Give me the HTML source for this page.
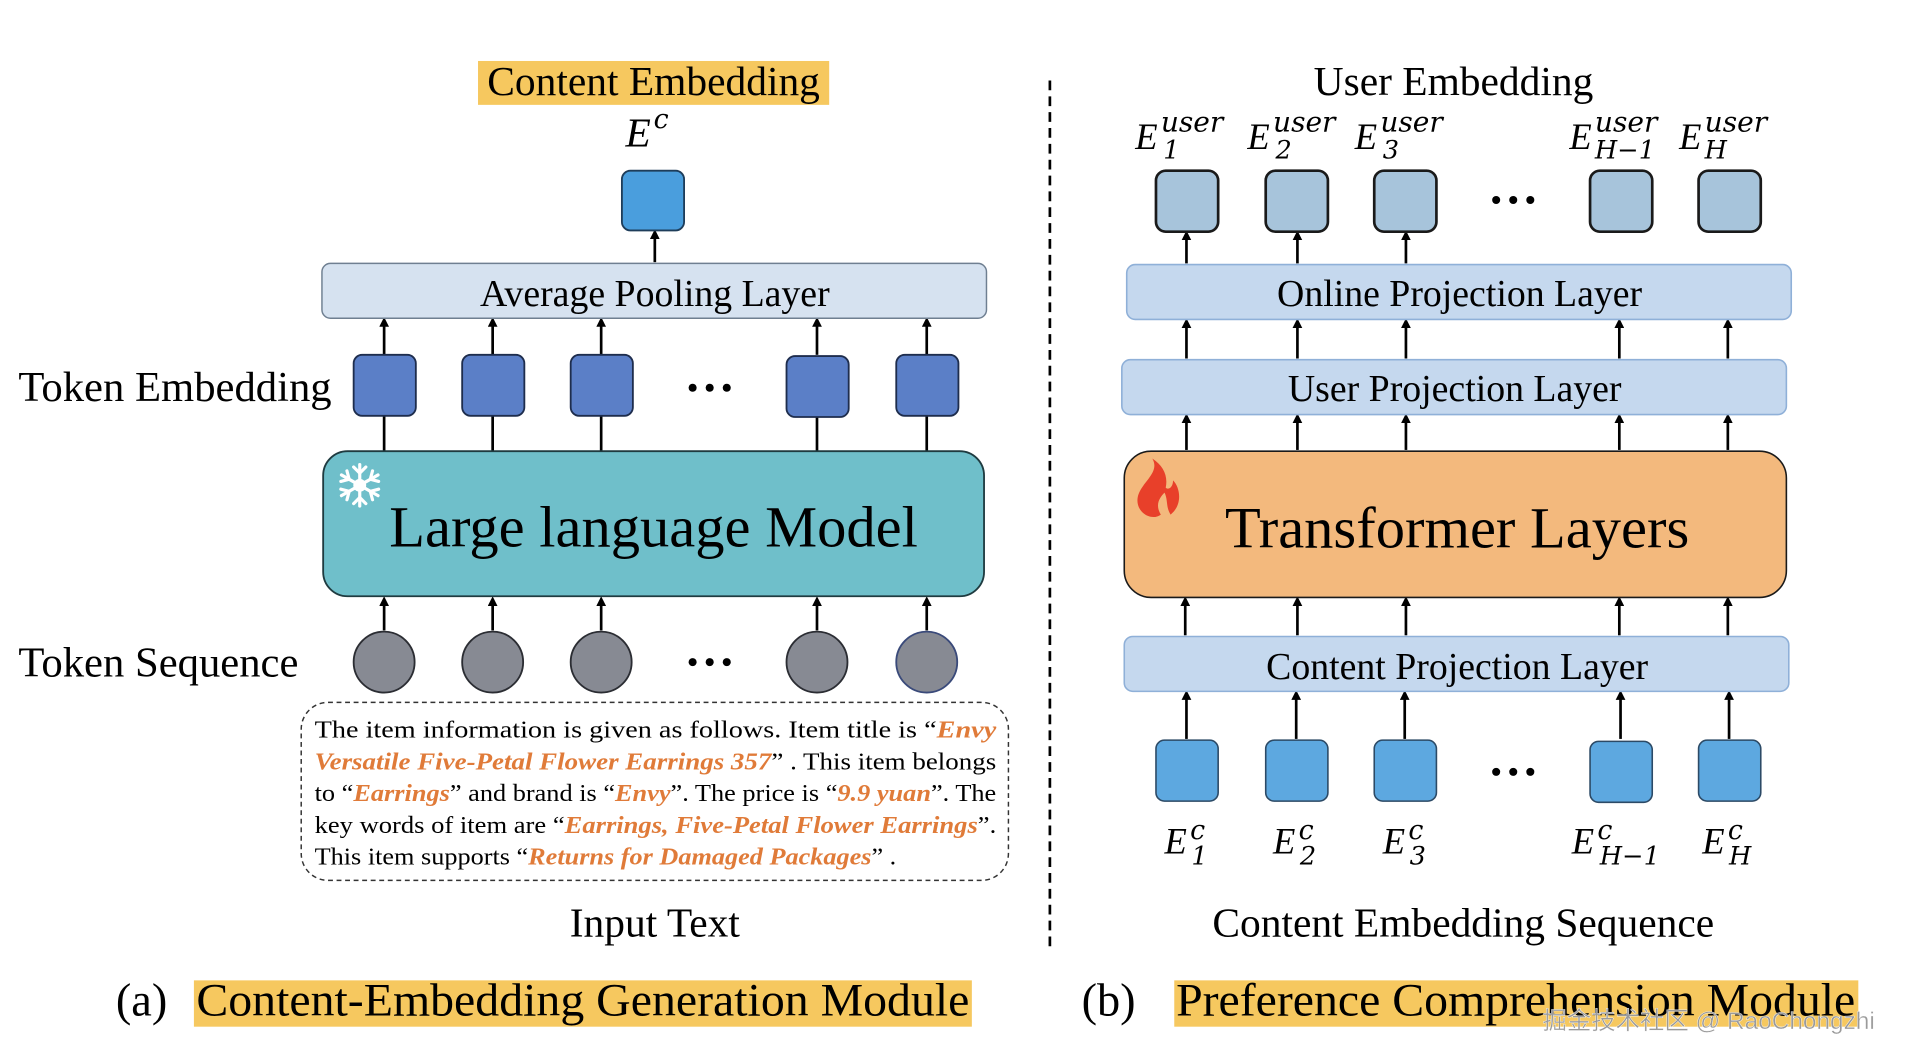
<!DOCTYPE html>
<html><head><meta charset="utf-8"><style>
html,body{margin:0;padding:0;background:#fff;width:1912px;height:1064px;overflow:hidden}
svg{display:block}
text{font-family:"Liberation Serif","Noto Serif CJK SC",serif;fill:#000}
.m{font-family:"DejaVu Serif","Liberation Serif",serif;font-style:italic}
</style></head><body>
<svg width="1912" height="1064" viewBox="0 0 1568 872.6" xmlns="http://www.w3.org/2000/svg">
<defs>
<marker id="ah" markerWidth="8" markerHeight="8" refX="4" refY="4" orient="auto" markerUnits="userSpaceOnUse"><path d="M0,0 L8,4 L0,8 z" fill="#000"/></marker>
</defs>
<g stroke="#000" stroke-width="2.2" fill="none">
<line x1="537" y1="215" x2="537" y2="192" marker-end="url(#ah)"/>
<g>
<line x1="315" y1="291" x2="315" y2="264" marker-end="url(#ah)"/>
<line x1="404" y1="291" x2="404" y2="264" marker-end="url(#ah)"/>
<line x1="493" y1="291" x2="493" y2="264" marker-end="url(#ah)"/>
<line x1="670" y1="291" x2="670" y2="264" marker-end="url(#ah)"/>
<line x1="760" y1="291" x2="760" y2="264" marker-end="url(#ah)"/>
<line x1="315" y1="341" x2="315" y2="370"/>
<line x1="404" y1="341" x2="404" y2="370"/>
<line x1="493" y1="341" x2="493" y2="370"/>
<line x1="670" y1="341" x2="670" y2="370"/>
<line x1="760" y1="341" x2="760" y2="370"/>
<line x1="315" y1="517" x2="315" y2="493" marker-end="url(#ah)"/>
<line x1="404" y1="517" x2="404" y2="493" marker-end="url(#ah)"/>
<line x1="493" y1="517" x2="493" y2="493" marker-end="url(#ah)"/>
<line x1="670" y1="517" x2="670" y2="493" marker-end="url(#ah)"/>
<line x1="760" y1="517" x2="760" y2="493" marker-end="url(#ah)"/>
</g>
<g>
<line x1="973" y1="216" x2="973" y2="193" marker-end="url(#ah)"/>
<line x1="1064" y1="216" x2="1064" y2="193" marker-end="url(#ah)"/>
<line x1="1153" y1="216" x2="1153" y2="193" marker-end="url(#ah)"/>
<line x1="973" y1="294" x2="973" y2="265" marker-end="url(#ah)"/>
<line x1="1064" y1="294" x2="1064" y2="265" marker-end="url(#ah)"/>
<line x1="1153" y1="294" x2="1153" y2="265" marker-end="url(#ah)"/>
<line x1="1328" y1="294" x2="1328" y2="265" marker-end="url(#ah)"/>
<line x1="1417" y1="294" x2="1417" y2="265" marker-end="url(#ah)"/>
<line x1="973" y1="369" x2="973" y2="343" marker-end="url(#ah)"/>
<line x1="1064" y1="369" x2="1064" y2="343" marker-end="url(#ah)"/>
<line x1="1153" y1="369" x2="1153" y2="343" marker-end="url(#ah)"/>
<line x1="1328" y1="369" x2="1328" y2="343" marker-end="url(#ah)"/>
<line x1="1417" y1="369" x2="1417" y2="343" marker-end="url(#ah)"/>
<line x1="972" y1="521" x2="972" y2="493" marker-end="url(#ah)"/>
<line x1="1064" y1="521" x2="1064" y2="493" marker-end="url(#ah)"/>
<line x1="1153" y1="521" x2="1153" y2="493" marker-end="url(#ah)"/>
<line x1="1328" y1="521" x2="1328" y2="493" marker-end="url(#ah)"/>
<line x1="1417" y1="521" x2="1417" y2="493" marker-end="url(#ah)"/>
<line x1="973" y1="606" x2="973" y2="570" marker-end="url(#ah)"/>
<line x1="1063" y1="606" x2="1063" y2="570" marker-end="url(#ah)"/>
<line x1="1152" y1="606" x2="1152" y2="570" marker-end="url(#ah)"/>
<line x1="1329" y1="606" x2="1329" y2="570" marker-end="url(#ah)"/>
<line x1="1418" y1="606" x2="1418" y2="570" marker-end="url(#ah)"/>
</g>
</g>

<rect x="392" y="50" width="288" height="36" fill="#f6c85f"/>
<rect x="159" y="804" width="638" height="38" fill="#f6c85f"/>
<rect x="963" y="804" width="561" height="38" fill="#f6c85f"/>

<text x="536" y="78" font-size="34" text-anchor="middle">Content Embedding</text>
<text x="513" y="120" font-size="34" font-style="italic">E</text><text x="536" y="105" font-size="22" class="m">c</text>

<rect x="510" y="140" width="51" height="49" rx="7" fill="#4a9edd" stroke="#1e3d5a" stroke-width="1.5"/>
<rect x="264" y="216" width="545" height="45" rx="7" fill="#d6e2f0" stroke="#6f7f91" stroke-width="1.2"/>
<text x="537" y="251" font-size="31" text-anchor="middle">Average Pooling Layer</text>

<text x="15" y="329" font-size="35">Token Embedding</text>
<g fill="#5b7fc7" stroke="#1e2d4d" stroke-width="1.5">
<rect x="290" y="291" width="51" height="50" rx="7"/>
<rect x="379" y="291" width="51" height="50" rx="7"/>
<rect x="468" y="291" width="51" height="50" rx="7"/>
<rect x="645" y="292" width="51" height="50" rx="7"/>
<rect x="735" y="291" width="51" height="50" rx="7"/>
</g>
<g fill="#000"><circle cx="568" cy="318" r="3.3"/><circle cx="582" cy="318" r="3.3"/><circle cx="596" cy="318" r="3.3"/>
<circle cx="568" cy="543" r="3.3"/><circle cx="582" cy="543" r="3.3"/><circle cx="596" cy="543" r="3.3"/></g>

<rect x="265" y="370" width="542" height="119" rx="20" fill="#6fbfca" stroke="#1f3b40" stroke-width="1.5"/>
<text x="536" y="448" font-size="48" text-anchor="middle">Large language Model</text>
<g stroke="#fff" stroke-width="2.6" stroke-linecap="round" transform="translate(295,398)">
<line x1="0" y1="-17" x2="0" y2="17"/><line x1="-15" y1="-8.5" x2="15" y2="8.5"/><line x1="-15" y1="8.5" x2="15" y2="-8.5"/>
<g id="br"><polyline points="-5,-15 0,-10 5,-15" fill="none"/></g>
<use href="#br" transform="rotate(60)"/><use href="#br" transform="rotate(120)"/><use href="#br" transform="rotate(180)"/><use href="#br" transform="rotate(240)"/><use href="#br" transform="rotate(300)"/>
<circle r="4" fill="#fff"/>
</g>

<text x="15" y="555" font-size="35">Token Sequence</text>
<g fill="#878a93" stroke="#2b2d33" stroke-width="1.5">
<circle cx="315" cy="543" r="25"/><circle cx="404" cy="543" r="25"/><circle cx="493" cy="543" r="25"/><circle cx="670" cy="543" r="25"/><circle cx="760" cy="543" r="25" stroke="#3a4a7a"/>
</g>

<rect x="247" y="576" width="580" height="146" rx="22" fill="none" stroke="#333" stroke-width="1.2" stroke-dasharray="4,3"/>
<g font-size="20">
<text x="258" y="605" textLength="559" lengthAdjust="spacingAndGlyphs">The item information is given as follows. Item title is  “<tspan fill="#e07b39" font-weight="bold" font-style="italic">Envy</tspan></text>
<text x="258" y="631" textLength="559" lengthAdjust="spacingAndGlyphs"><tspan fill="#e07b39" font-weight="bold" font-style="italic">Versatile Five-Petal Flower Earrings 357</tspan>” . This item belongs</text>
<text x="258" y="657" textLength="559" lengthAdjust="spacingAndGlyphs">to “<tspan fill="#e07b39" font-weight="bold" font-style="italic">Earrings</tspan>” and brand is “<tspan fill="#e07b39" font-weight="bold" font-style="italic">Envy</tspan>”. The price is “<tspan fill="#e07b39" font-weight="bold" font-style="italic">9.9 yuan</tspan>”. The</text>
<text x="258" y="683" textLength="559" lengthAdjust="spacingAndGlyphs">key words of item are “<tspan fill="#e07b39" font-weight="bold" font-style="italic">Earrings, Five-Petal Flower Earrings</tspan>”.</text>
<text x="258" y="709" textLength="477" lengthAdjust="spacingAndGlyphs">This item supports “<tspan fill="#e07b39" font-weight="bold" font-style="italic">Returns for Damaged Packages</tspan>” .</text>
</g>
<text x="537" y="768" font-size="34" text-anchor="middle">Input Text</text>
<text x="95" y="833" font-size="38">(a)</text>
<text x="478" y="833" font-size="38" text-anchor="middle" textLength="634" lengthAdjust="spacingAndGlyphs">Content-Embedding Generation Module</text>

<line x1="861" y1="66" x2="861" y2="778" stroke="#000" stroke-width="2.2" stroke-dasharray="8,5"/>

<text x="1192" y="78" font-size="34" text-anchor="middle">User Embedding</text>
<g font-size="30">
<text x="931" y="122" font-style="italic">E</text><text x="952" y="108" font-size="23" class="m">user</text><text x="954" y="130" font-size="21" class="m" font-style="normal">1</text>
<text x="1023" y="122" font-style="italic">E</text><text x="1044" y="108" font-size="23" class="m">user</text><text x="1046" y="130" font-size="21" class="m" font-style="normal">2</text>
<text x="1111" y="122" font-style="italic">E</text><text x="1132" y="108" font-size="23" class="m">user</text><text x="1134" y="130" font-size="21" class="m" font-style="normal">3</text>
<text x="1287" y="122" font-style="italic">E</text><text x="1308" y="108" font-size="23" class="m">user</text><text x="1308" y="130" font-size="21" class="m">H−1</text>
<text x="1377" y="122" font-style="italic">E</text><text x="1398" y="108" font-size="23" class="m">user</text><text x="1398" y="130" font-size="21" class="m">H</text>
</g>
<g fill="#a7c4db" stroke="#1a1a1a" stroke-width="2.2">
<rect x="948" y="140" width="51" height="50" rx="8"/><rect x="1038" y="140" width="51" height="50" rx="8"/><rect x="1127" y="140" width="51" height="50" rx="8"/><rect x="1304" y="140" width="51" height="50" rx="8"/><rect x="1393" y="140" width="51" height="50" rx="8"/>
</g>
<g fill="#000"><circle cx="1227" cy="164" r="3.3"/><circle cx="1241" cy="164" r="3.3"/><circle cx="1255" cy="164" r="3.3"/>
<circle cx="1227" cy="633" r="3.3"/><circle cx="1241" cy="633" r="3.3"/><circle cx="1255" cy="633" r="3.3"/></g>

<g fill="#c5d8ee" stroke="#8fb0d8" stroke-width="1.3">
<rect x="924" y="217" width="545" height="45" rx="7"/>
<rect x="920" y="295" width="545" height="45" rx="7"/>
<rect x="922" y="522" width="545" height="45" rx="7"/>
</g>
<text x="1197" y="251" font-size="31" text-anchor="middle">Online Projection Layer</text>
<text x="1193" y="329" font-size="31" text-anchor="middle">User Projection Layer</text>
<text x="1195" y="557" font-size="31" text-anchor="middle">Content Projection Layer</text>

<rect x="922" y="370" width="543" height="120" rx="22" fill="#f3b97d" stroke="#1a1a1a" stroke-width="1.3"/>
<text x="1195" y="449" font-size="48" text-anchor="middle">Transformer Layers</text>
<path d="M945,376 C952,388 935,396 933,408 C931,420 944,428 952,422 C947,414 951,408 955,404 C958,410 956,416 960,422 C970,414 968,400 962,394 C962,400 958,402 956,400 C958,390 954,382 945,376 Z" fill="#e8402a"/>

<g fill="#5da8e0" stroke="#2c4a66" stroke-width="1.3">
<rect x="948" y="607" width="51" height="50" rx="7"/><rect x="1038" y="607" width="51" height="50" rx="7"/><rect x="1127" y="607" width="51" height="50" rx="7"/><rect x="1304" y="608" width="51" height="50" rx="7"/><rect x="1393" y="607" width="51" height="50" rx="7"/>
</g>
<g font-size="30">
<text x="955" y="700" font-style="italic">E</text><text x="976" y="688" font-size="22" class="m">c</text><text x="977" y="709" font-size="21" class="m" font-style="normal">1</text>
<text x="1044" y="700" font-style="italic">E</text><text x="1065" y="688" font-size="22" class="m">c</text><text x="1066" y="709" font-size="21" class="m" font-style="normal">2</text>
<text x="1134" y="700" font-style="italic">E</text><text x="1155" y="688" font-size="22" class="m">c</text><text x="1156" y="709" font-size="21" class="m" font-style="normal">3</text>
<text x="1289" y="700" font-style="italic">E</text><text x="1310" y="688" font-size="22" class="m">c</text><text x="1312" y="709" font-size="21" class="m">H−1</text>
<text x="1396" y="700" font-style="italic">E</text><text x="1417" y="688" font-size="22" class="m">c</text><text x="1418" y="709" font-size="21" class="m">H</text>
</g>
<text x="1200" y="768" font-size="34" text-anchor="middle">Content Embedding Sequence</text>
<text x="887" y="833" font-size="38">(b)</text>
<text x="1243" y="833" font-size="38" text-anchor="middle" textLength="557" lengthAdjust="spacingAndGlyphs">Preference Comprehension Module</text>
<text x="1265" y="844" font-size="20" style="font-family:'Liberation Sans','Noto Sans CJK SC',sans-serif;fill:#9a9a9a;stroke:#fff;stroke-width:0.3">掘金技术社区 @ RaoChongzhi</text>
</svg>
</body></html>
